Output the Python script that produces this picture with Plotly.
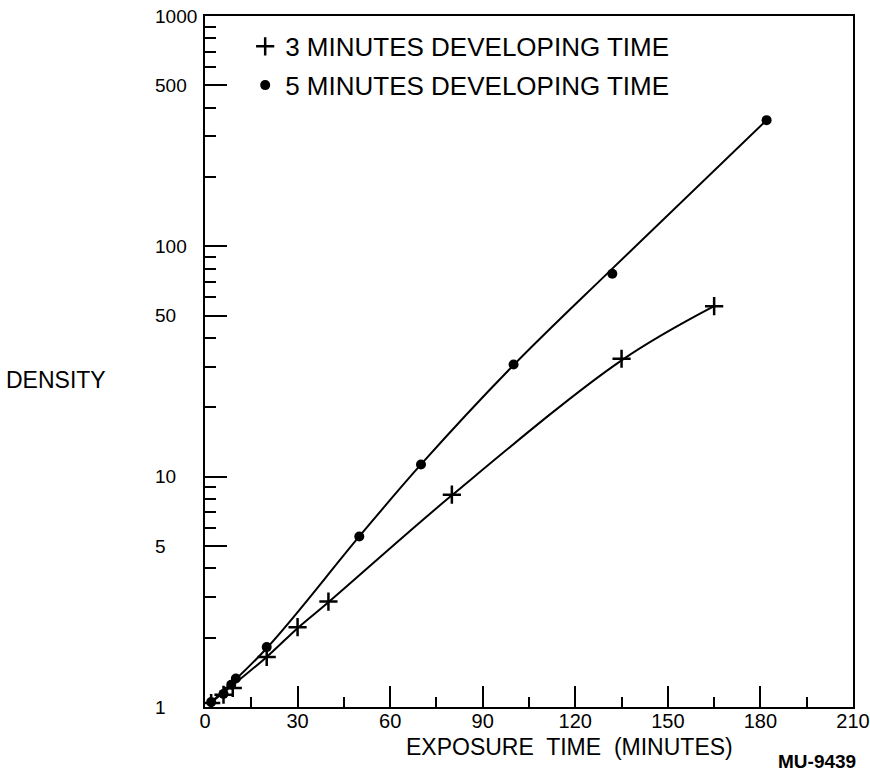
import math
import plotly.graph_objects as go

# Measured points (exposure time in minutes, photographic density)
three_min_x = [2, 6, 9, 20, 30, 40, 80, 135, 165]
three_min_y = [1.04, 1.13, 1.21, 1.65, 2.22, 2.87, 8.35, 32.5, 55]
five_min_x = [2, 6, 8.5, 10, 20, 50, 70, 100, 132, 182]
five_min_y = [1.05, 1.14, 1.25, 1.33, 1.82, 5.5, 11.3, 30.7, 76, 353]

# Smooth hand-drawn curves through each series
three_curve_x = [1, 20, 30, 40, 80, 135, 165]
three_curve_y = [1.02, 1.65, 2.2, 2.85, 8.3, 32, 55]
five_curve_x = [1, 20, 50, 70, 100, 132, 182]
five_curve_y = [1.02, 1.8, 5.5, 11.3, 30.5, 80, 353]

legend_labels = ["3 MINUTES DEVELOPING TIME", "5 MINUTES DEVELOPING TIME"]

x_ticks = [0, 30, 60, 90, 120, 150, 180, 210]
x_minor = [15, 45, 75, 105, 135, 165, 195]
y_ticks = [1, 5, 10, 50, 100, 500, 1000]
y_tick_text = ["1", "5", "10", "50", "100", "500", "1000"]
y_minor = [2, 3, 4, 6, 7, 8, 9, 20, 30, 40, 60, 70, 80, 90,
           200, 300, 400, 600, 700, 800, 900]

FONT = "Liberation Sans"
INK = "black"

fig = go.Figure()

fig.add_trace(go.Scatter(x=three_curve_x, y=three_curve_y, mode="lines",
                         line=dict(color=INK, width=2, shape="spline", smoothing=1.0),
                         showlegend=False, hoverinfo="skip"))
fig.add_trace(go.Scatter(x=five_curve_x, y=five_curve_y, mode="lines",
                         line=dict(color=INK, width=2, shape="spline", smoothing=1.0),
                         showlegend=False, hoverinfo="skip"))

fig.add_trace(go.Scatter(x=three_min_x, y=three_min_y, mode="markers",
                         name=legend_labels[0], legendgroup="a",
                         marker=dict(symbol="cross-thin", size=13,
                                     line=dict(color=INK, width=2.5), color=INK)))
fig.add_trace(go.Scatter(x=five_min_x, y=five_min_y, mode="markers",
                         name=legend_labels[1], legendgroup="b",
                         marker=dict(symbol="circle", size=10, color=INK)))

# y tick labels, left-aligned beside the axis
annotations = []
for v, t in zip(y_ticks, y_tick_text):
    annotations.append(dict(x=-0.08, xref="paper", xanchor="left",
                            y=math.log10(v), yref="y", yanchor="middle",
                            text=t, showarrow=False,
                            font=dict(family=FONT, size=19, color=INK)))

annotations += [
    dict(x=-0.31, xref="paper", xanchor="left", y=0.473, yref="paper",
         yanchor="middle", text="DENSITY", showarrow=False,
         font=dict(family=FONT, size=23, color=INK)),
    dict(x=0.563, xref="paper", xanchor="center", y=-0.058, yref="paper",
         yanchor="middle", text="EXPOSURE  TIME  (MINUTES)", showarrow=False,
         font=dict(family=FONT, size=23, color=INK)),
    dict(x=1.008, xref="paper", xanchor="right", y=-0.079, yref="paper",
         yanchor="middle", text="<b>MU-9439</b>", showarrow=False,
         font=dict(family=FONT, size=19, color=INK)),
]

fig.update_layout(
    width=870, height=773,
    margin=dict(l=205, r=17, t=16, b=66, autoexpand=False),
    paper_bgcolor="white", plot_bgcolor="white",
    font=dict(family=FONT, color=INK),
    showlegend=True,
    legend=dict(x=0.062, y=0.99, xanchor="left", yanchor="top",
                bgcolor="rgba(0,0,0,0)", borderwidth=0,
                traceorder="grouped", tracegroupgap=2,
                font=dict(family=FONT, size=26, color=INK)),
    annotations=annotations,
)

fig.update_xaxes(
    range=[0, 210], showgrid=False, zeroline=False, automargin=False,
    showline=True, linecolor=INK, linewidth=2, mirror=True,
    tickmode="array", tickvals=x_ticks, ticks="inside", ticklen=21,
    tickwidth=2, tickcolor=INK, ticklabeloverflow="allow",
    ticklabelstandoff=-5,
    tickfont=dict(family=FONT, size=20, color=INK),
    minor=dict(tickmode="array", tickvals=x_minor, ticks="inside",
               ticklen=10, tickwidth=2, tickcolor=INK, showgrid=False),
)

fig.update_yaxes(
    type="log", range=[0, 3], showgrid=False, zeroline=False, automargin=False,
    showline=True, linecolor=INK, linewidth=2, mirror=True,
    tickmode="array", tickvals=y_ticks, ticks="inside", ticklen=22,
    tickwidth=2, tickcolor=INK, showticklabels=False,
    minor=dict(tickmode="array", tickvals=y_minor, ticks="inside",
               ticklen=11, tickwidth=2, tickcolor=INK, showgrid=False),
)

fig.write_html("out.html")
